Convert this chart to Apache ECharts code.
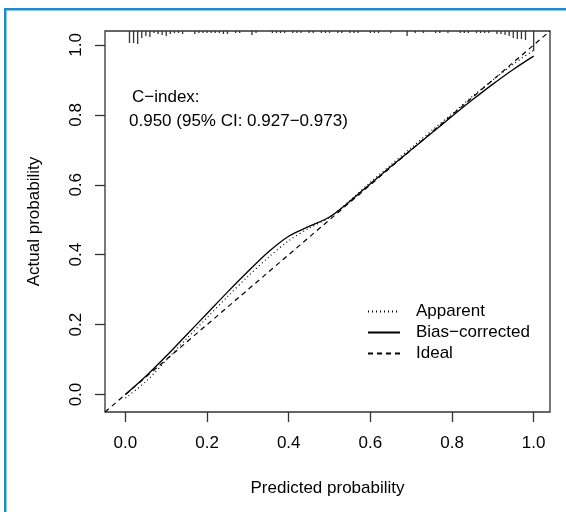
<!DOCTYPE html>
<html>
<head>
<meta charset="utf-8">
<script src="https://cdn.jsdelivr.net/npm/echarts@6/dist/echarts.min.js"></script>
<style>
  html, body { margin: 0; padding: 0; background: #fff; }
  #main { width: 566px; height: 512px; }
</style>
</head>
<body>
<div id="main"></div>
<script>
// axis range (R default padding) and tick labels
var axisRange = [-0.05, 1.04];
var tickValues = [0, 0.2, 0.4, 0.6, 0.8, 1.0];

// calibration curves
var predX = [0, 0.05, 0.1, 0.15, 0.2, 0.25, 0.3, 0.35, 0.4, 0.45, 0.5, 0.55, 0.6, 0.65, 0.7, 0.75, 0.8, 0.85, 0.9, 0.95, 1.0];
var apparentY = [-0.01, 0.037, 0.098, 0.16, 0.22, 0.28, 0.338, 0.392, 0.44, 0.476, 0.507, 0.555, 0.607, 0.657, 0.706, 0.755, 0.803, 0.853, 0.9, 0.945, 0.985];
var biasY = [0.0, 0.052, 0.11, 0.171, 0.232, 0.293, 0.352, 0.408, 0.453, 0.481, 0.508, 0.553, 0.603, 0.652, 0.70, 0.748, 0.796, 0.843, 0.888, 0.93, 0.968];

// distribution of predicted probabilities (rug at top)
var rugP = [0.01, 0.02, 0.03, 0.04, 0.05, 0.06, 0.07, 0.08, 0.09, 0.10, 0.11, 0.12, 0.13, 0.14,
  0.17, 0.18, 0.19, 0.20, 0.21, 0.22, 0.23, 0.24, 0.25, 0.27, 0.28, 0.31, 0.32,
  0.36, 0.37, 0.38, 0.39, 0.41, 0.42, 0.43, 0.45, 0.46, 0.48, 0.49, 0.50, 0.52, 0.53,
  0.55, 0.56, 0.57, 0.60, 0.61, 0.62, 0.65, 0.69, 0.71, 0.73, 0.76, 0.77, 0.79,
  0.82, 0.83, 0.84, 0.86, 0.87, 0.88, 0.89, 0.91, 0.92, 0.93, 0.94, 0.95, 0.96, 0.97, 0.98, 1.00];
var rugFreq = [12, 12, 13, 7, 5, 6, 2, 3, 4, 5, 3, 2, 2, 3,
  3, 2, 2, 2, 2, 2, 2, 3, 3, 2, 2, 4, 2,
  2, 2, 2, 2, 2, 2, 2, 2, 2, 2, 2, 2, 2, 2,
  2, 2, 2, 2, 2, 2, 2, 5, 2, 2, 2, 2, 2,
  2, 2, 2, 2, 2, 2, 2, 3, 3, 4, 5, 7, 8, 8, 9, 20];

var textFont = '"Liberation Sans", Arial, Helvetica, sans-serif';

function pairs(xs, ys) {
  var out = [];
  for (var i = 0; i < xs.length; i++) out.push([xs[i], ys[i]]);
  return out;
}

var chart = echarts.init(document.getElementById('main'), null, { renderer: 'canvas' });

var axisCommon = {
  type: 'value',
  min: axisRange[0],
  max: axisRange[1],
  nameLocation: 'middle',
  nameTextStyle: { fontFamily: textFont, fontSize: 17, color: '#000' },
  axisLine: { show: false, onZero: false },
  splitLine: { show: false },
  axisTick: {
    show: true,
    inside: false,
    length: 10,
    customValues: tickValues,
    lineStyle: { color: '#333', width: 1.3 }
  },
  axisLabel: {
    customValues: tickValues,
    fontFamily: textFont,
    fontSize: 17,
    color: '#000',
    formatter: function (v) { return v.toFixed(1); }
  }
};

var option = {
  animation: false,
  backgroundColor: '#fff',
  grid: {
    left: 105, top: 31, width: 445, height: 381,
    show: true, borderColor: '#333', borderWidth: 1.3, backgroundColor: 'transparent'
  },
  xAxis: echarts.util.merge({
    name: 'Predicted probability',
    nameGap: 68,
    axisLabel: { margin: 23 }
  }, axisCommon, false),
  yAxis: echarts.util.merge({
    name: 'Actual probability',
    nameGap: 62,
    axisLabel: { margin: 20, rotate: 90 }
  }, axisCommon, false),
  legend: {
    orient: 'vertical',
    left: 362,
    top: 298,
    itemWidth: 32,
    itemHeight: 14,
    itemGap: 4,
    data: ['Apparent', 'Bias\u2212corrected', 'Ideal'],
    itemStyle: { opacity: 0 },
    textStyle: { fontFamily: textFont, fontSize: 17, color: '#000', lineHeight: 17, padding: [0, 0, 0, 11] }
  },
  graphic: [
    { type: 'rect', shape: { x: 4, y: 8, width: 562, height: 2.5 }, style: { fill: '#1f8bc9' }, silent: true },
    { type: 'rect', shape: { x: 4, y: 8, width: 2.5, height: 504 }, style: { fill: '#1f8bc9' }, silent: true },
    { type: 'text', left: 132, top: 89, style: { text: 'C\u2212index:', font: '17px ' + textFont, fill: '#000' } },
    { type: 'text', left: 129, top: 113, style: { text: '0.950 (95% CI: 0.927\u22120.973)', font: '17px ' + textFont, fill: '#000' } }
  ],
  series: [
    {
      name: 'Apparent',
      type: 'line',
      data: pairs(predX, apparentY),
      smooth: 0.3,
      showSymbol: false,
      symbol: 'none',
      lineStyle: { color: '#000', width: 1.2, type: [1, 3] },
      itemStyle: { color: '#000' }
    },
    {
      name: 'Bias\u2212corrected',
      type: 'line',
      data: pairs(predX, biasY),
      smooth: 0.3,
      showSymbol: false,
      symbol: 'none',
      lineStyle: { color: '#000', width: 1.3, type: 'solid' },
      itemStyle: { color: '#000' }
    },
    {
      name: 'Ideal',
      type: 'line',
      data: pairs(axisRange, axisRange),
      showSymbol: false,
      symbol: 'none',
      lineStyle: { color: '#000', width: 1.2, type: [5, 4] },
      itemStyle: { color: '#000' }
    },
    {
      name: 'rug',
      type: 'custom',
      silent: true,
      data: pairs(rugP, rugFreq),
      renderItem: function (params, api) {
        var p = api.value(0);
        var f = api.value(1);
        var top = api.coord([p, axisRange[1]]);
        var unit = api.size([0, 1])[1] / 350.4; // one frequency unit ~ one pixel
        return {
          type: 'line',
          shape: { x1: top[0], y1: top[1], x2: top[0], y2: top[1] + f * unit },
          style: { stroke: '#333', lineWidth: 1.3 }
        };
      }
    }
  ]
};

chart.setOption(option);
</script>
</body>
</html>
